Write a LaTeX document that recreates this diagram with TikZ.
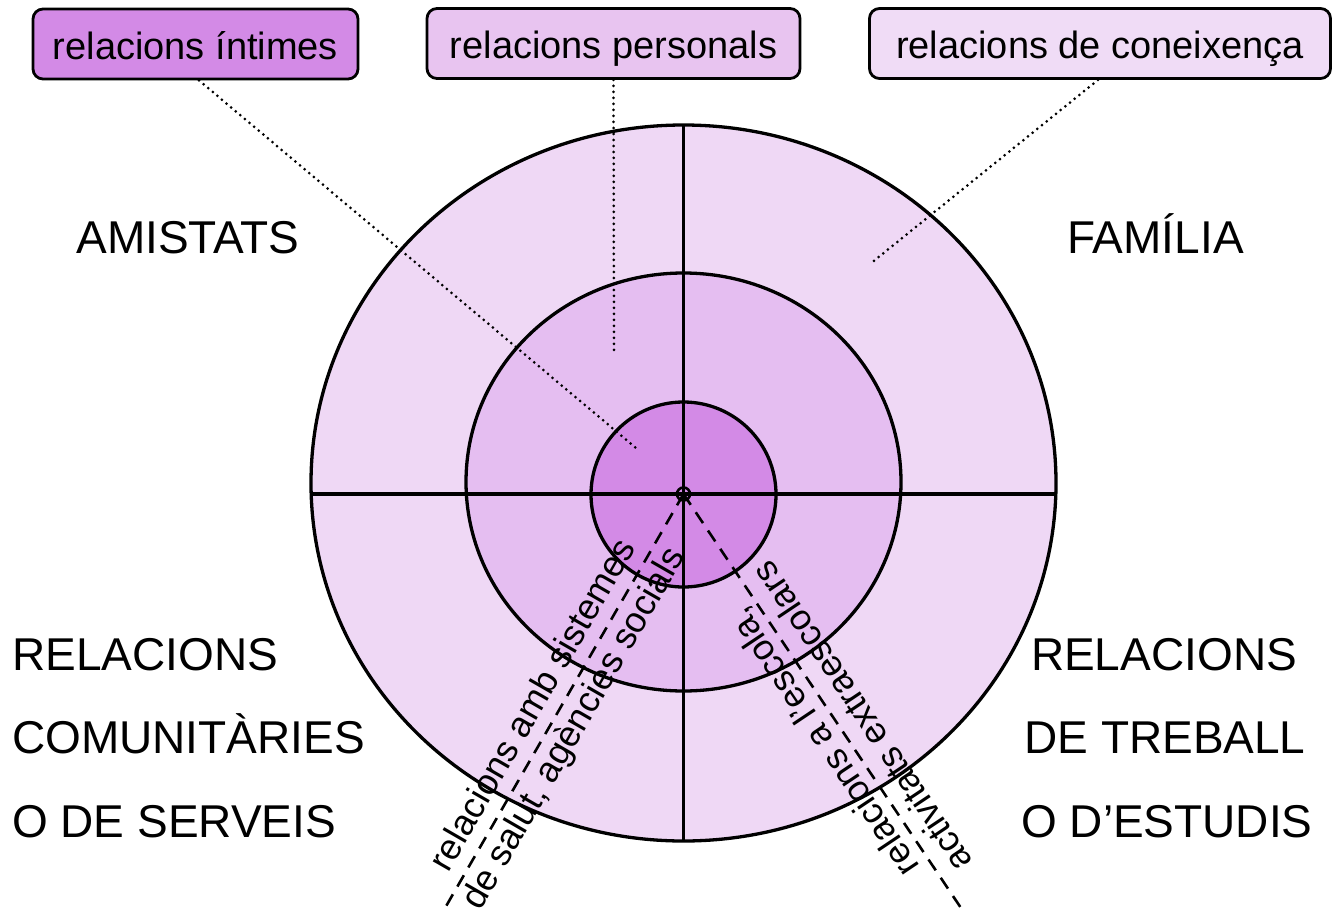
\documentclass[tikz,border=0pt]{standalone}
\usepackage{fontspec}
\setmainfont{Liberation Sans}
\usetikzlibrary{calc}
\definecolor{outc}{HTML}{EFD8F5}
\definecolor{midc}{HTML}{E5BEF1}
\definecolor{innc}{HTML}{D38AE6}
\definecolor{tagmid}{HTML}{E8C4F0}
\definecolor{tagout}{HTML}{F0DCF6}
\begin{document}
\begin{tikzpicture}[x=1pt,y=-1pt,
  ring/.style={draw=black,line width=3.3pt},
  axisline/.style={draw=black,line width=3.3pt},
  spoke/.style={draw=black,line width=2.6pt,dash pattern=on 13pt off 9pt},
  leader/.style={draw=black,line width=3pt,dash pattern=on 0pt off 6pt,line cap=round},
  tagbox/.style={draw=black,line width=2.8pt,rounded corners=10pt,minimum height=70pt,inner sep=0pt,text height=34pt,text depth=4pt,font=\fontsize{38}{44}\selectfont},
  sector/.style={font=\fontsize{46}{55}\selectfont,inner sep=0pt},
  ray/.style={font=\fontsize{36}{47}\selectfont,align=center,inner sep=0pt}]
\useasboundingbox (0,0) rectangle (1332,910);
% rings
\path[ring,fill=outc] (683.5,483) ellipse [x radius=372.5, y radius=358];
\path[ring,fill=midc] (683.5,482) ellipse [x radius=217.5, y radius=209];
\path[ring,fill=innc] (683.5,494.5) circle [radius=92.5];
% axes
\draw[axisline] (311,494) -- (1056,494);
\draw[axisline] (683.5,125) -- (683.5,841);
% spokes
\coordinate (O) at (683.5,494);
\coordinate (L) at (445,908);
\coordinate (R) at (961,908);
\draw[spoke] (O) -- (L);
\draw[spoke] (O) -- (R);
\draw[line width=2.6pt] (O) circle [radius=6.5];
% tags
\node[tagbox,fill=innc,minimum width=325pt] (bi) at (195.5,44) {relacions íntimes};
\node[tagbox,fill=tagmid,minimum width=373pt] (bp) at (613.5,43.5) {relacions personals};
\node[tagbox,fill=tagout,minimum width=461pt] (bc) at (1100,43.5) {relacions de coneixença};
\coordinate (ei) at (636,448);
\coordinate (ep) at (614,351);
\coordinate (ec) at (870,264);
\draw[leader] ([xshift=3.5pt]bi.south) -- (ei);
\draw[leader] (bp.south) -- (ep);
\draw[leader] ([xshift=-2pt]bc.south) -- (ec);
% sector labels
\node[sector,anchor=base] (am) at (188,253) {AMISTATS};
\node[sector,anchor=base] (fa) at (1155.5,253) {FAMÍLIA};
\node[sector,anchor=base west] (c1) at (12,670) {RELACIONS};
\node[sector,anchor=base west] (c2) at (12,753) {COMUNITÀRIES};
\node[sector,anchor=base west] (c3) at (12,837) {O DE SERVEIS};
\node[sector,anchor=base] (t1) at (1164,670) {RELACIONS};
\node[sector,anchor=base] (t2) at (1165,753) {DE TREBALL};
\node[sector,anchor=base] (t3) at (1167,837) {O D'ESTUDIS};
% ray labels
\node[ray,rotate=60.06] (tl) at ($(O)!0.54!(L)$) {relacions amb sistemes\\de salut, agències socials};
\node[ray,rotate=123.8] (tr) at ($(O)!0.57!(R)$) {relacions a l'escola,\\activitats extraescolars};
\end{tikzpicture}
\end{document}
